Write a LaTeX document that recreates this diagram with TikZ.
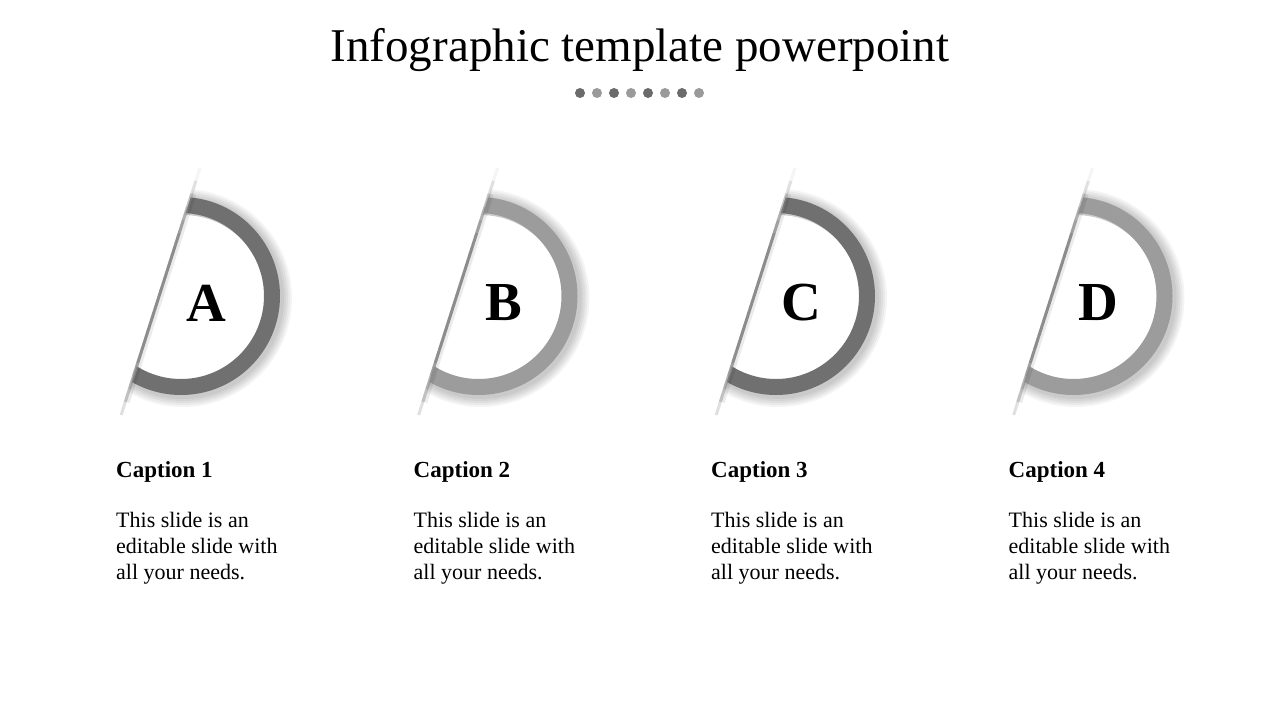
\documentclass[tikz,border=0pt]{standalone}
\usepackage{fontspec}
\setmainfont{Liberation Serif}
\usetikzlibrary{calc}
\definecolor{ringdark}{HTML}{707070}
\definecolor{ringlight}{HTML}{9C9C9C}
\definecolor{dotdark}{HTML}{6B6B6B}
\definecolor{dotlight}{HTML}{9A9A9A}
\definecolor{slashgray}{HTML}{8C8C8C}
\tikzstyle{ring} = [line width=16pt]
\tikzstyle{ringshadow} = [black, opacity=0.045]
\tikzstyle{slash} = [slashgray, line width=3pt]
\tikzstyle{letter} = [font=\fontsize{55}{55}\selectfont\bfseries]
\tikzstyle{caption} = [font=\fontsize{23}{26}\selectfont\bfseries, anchor=base west, inner sep=0pt]
\tikzstyle{body} = [font=\fontsize{22}{26}\selectfont, anchor=base west, align=left, inner sep=0pt]
\tikzstyle{dot} = [circle, minimum size=10pt, inner sep=0pt]

\begin{document}
\begin{tikzpicture}[x=1pt, y=-1pt]
	\fill[white] (0,0) rectangle (1280,720);
	\useasboundingbox (0,0) rectangle (1280,720);

	% Title and the row of dots under it
	\node[font=\fontsize{47}{50}\selectfont] (title) at (640,50) {Infographic template powerpoint};
	\foreach \k/\c in {0/dotdark, 1/dotlight, 2/dotdark, 3/dotlight, 4/dotdark, 5/dotlight, 6/dotdark, 7/dotlight}
		\node[dot, fill=\c] (dot\k) at ({580+17*\k},93) {};

	% Then the four half rings with their captions
	\foreach \n/\x/\col/\lbl in {1/0/ringdark/A, 2/297.5/ringlight/B, 3/595/ringdark/C, 4/892.5/ringlight/D}
	{
		\begin{scope}[shift={(\x,0)}]
			\coordinate (top\n) at (200,168);
			\coordinate (bot\n) at (117,428);
			\begin{scope}
				\clip (209,140) -- (340,140) -- (340,460) -- (110,450) -- cycle;
				\foreach \w in {2,4,...,10}
					\draw[ringshadow, line width=16+\w] (183,298) circle (91+\w/2);
				\draw[ring, \col] (181,296) circle (91);
			\end{scope}
			\draw[black, opacity=0.08, line width=6pt] ($(top\n)!0.1!(bot\n)+(1.5,0)$) -- ($(top\n)!0.9!(bot\n)+(1.5,0)$);
			\foreach \t in {0,0.05,...,0.95}
			{
				\pgfmathsetmacro{\op}{min(1,3.5*min(\t+0.025,0.975-\t))}
				\draw[slash, opacity=\op] ($(top\n)!\t!(bot\n)$) -- ($(top\n)!{\t+0.05}!(bot\n)$);
			}
			\node[letter] (let\n) at (206,303) {\lbl};
			\node[caption] (cap\n) at (116,477) {Caption \n};
			\node[body] (txt\n) at (116,579) {This slide is an\\editable slide with\\all your needs.};
		\end{scope}
	}
\end{tikzpicture}
\end{document}
